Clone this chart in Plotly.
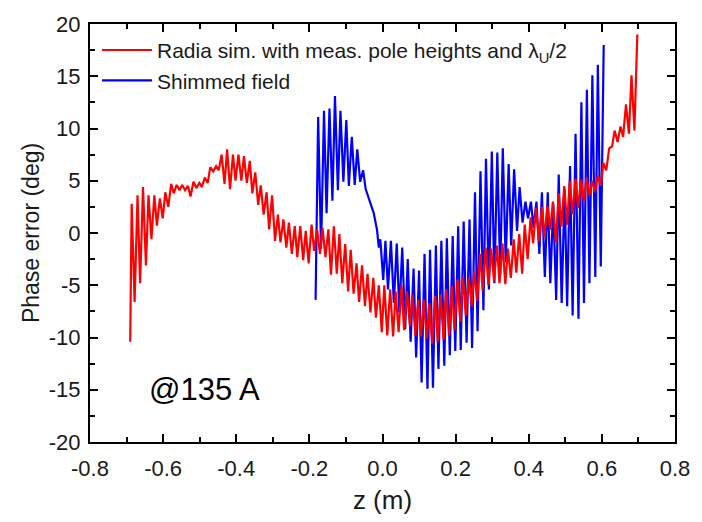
import plotly.graph_objects as go

# ---------------- data ----------------
# Red: Radia simulation – first point, then alternating peak / trough values per pole period
red_start_z = [-0.690]
red_start_v = [-10.4]
red_peak_z = [-0.686, -0.670, -0.655, -0.640, -0.624, -0.609, -0.594, -0.578, -0.563, -0.548,
              -0.532, -0.517, -0.501, -0.486, -0.471, -0.455, -0.440, -0.425, -0.409, -0.394,
              -0.379, -0.363, -0.348, -0.333, -0.317, -0.302, -0.286, -0.271, -0.256, -0.240,
              -0.225, -0.210, -0.194, -0.179, -0.164, -0.148, -0.133, -0.118, -0.102, -0.087,
              -0.071, -0.056, -0.041, -0.025, -0.010, 0.005, 0.021, 0.036, 0.052, 0.067,
              0.082, 0.098, 0.113, 0.128, 0.144, 0.159, 0.174, 0.190, 0.205, 0.220,
              0.236, 0.251, 0.267, 0.282, 0.297, 0.313, 0.328, 0.343, 0.359, 0.374,
              0.389, 0.405, 0.420, 0.436, 0.451, 0.466, 0.482, 0.497, 0.512, 0.528,
              0.543, 0.558, 0.574, 0.589, 0.604, 0.620, 0.635, 0.651, 0.666, 0.681,
              0.697]
red_peak_v = [2.8, 3.6, 4.4, 3.6, 3.6, 3.3, 3.9, 4.7, 4.6, 4.6,
              4.5, 4.9, 4.8, 5.3, 6.3, 6.4, 7.5, 8.0, 7.5, 7.5,
              7.35, 6.9, 5.8, 4.55, 3.9, 3.6, 1.75, 1.3, 1.0, 0.65,
              0.65, 0.2, 0.8, 0.35, 0.5, 0.35, 0.65, -0.1, -1.05, -1.6,
              -2.9, -3.1, -3.9, -4.3, -5.0, -5.0, -5.4, -5.6, -5.0, -5.6,
              -5.9, -6.4, -6.4, -6.7, -6.0, -5.9, -5.4, -5.1, -4.5, -4.2,
              -4.3, -3.6, -2.0, -1.4, -1.5, -1.2, -1.0, -1.5, -0.6, -0.1,
              0.8, 1.5, 2.4, 2.5, 2.6, 3.0, 3.8, 4.5, 5.0, 5.2,
              5.1, 5.3, 5.0, 5.5, 6.7, 8.1, 9.8, 10.2, 12.3, 15.1,
              19.0]
red_trough_z = [-0.678, -0.663, -0.647, -0.632, -0.617, -0.601, -0.586, -0.571, -0.555, -0.540,
                -0.525, -0.509, -0.494, -0.478, -0.463, -0.448, -0.432, -0.417, -0.402, -0.386,
                -0.371, -0.356, -0.340, -0.325, -0.310, -0.294, -0.279, -0.263, -0.248, -0.233,
                -0.217, -0.202, -0.187, -0.171, -0.156, -0.141, -0.125, -0.110, -0.094, -0.079,
                -0.064, -0.048, -0.033, -0.018, -0.002, 0.013, 0.029, 0.044, 0.059, 0.075,
                0.090, 0.105, 0.121, 0.136, 0.151, 0.167, 0.182, 0.197, 0.213, 0.228,
                0.244, 0.259, 0.274, 0.290, 0.305, 0.320, 0.336, 0.351, 0.366, 0.382,
                0.397, 0.412, 0.428, 0.443, 0.459, 0.474, 0.489, 0.505, 0.520, 0.535,
                0.551, 0.566, 0.581, 0.597, 0.612, 0.628, 0.643, 0.658, 0.674, 0.689]
red_trough_v = [-6.6, -4.8, -3.1, -0.6, 0.7, 1.4, 2.5, 3.8, 4.1, 4.1,
                3.5, 4.3, 4.4, 4.8, 5.9, 6.0, 4.7, 4.2, 5.0, 5.0,
                4.8, 3.8, 2.7, 1.75, 0.35, -0.75, -0.9, -1.4, -2.0, -2.3,
                -2.6, -2.9, -1.7, -2.0, -2.3, -4.0, -3.9, -4.8, -5.6, -5.8,
                -6.6, -7.0, -7.6, -8.1, -9.5, -9.8, -9.9, -9.5, -9.3, -8.9,
                -9.8, -9.9, -10.1, -10.6, -10.4, -10.2, -9.8, -9.3, -8.5, -7.9,
                -7.0, -6.5, -5.5, -5.0, -4.6, -4.8, -4.9, -4.3, -3.8, -3.9,
                -2.5, -1.0, -0.8, -0.4, 0.3, -0.9, 0.6, 0.8, 1.8, 2.4,
                3.0, 3.6, 3.9, 4.5, 6.0, 8.3, 8.7, 9.2, 9.5, 9.8]

# Blue: shimmed field (sample points in order)
blue_z = [-0.183,
          -0.176, -0.168, -0.160, -0.153, -0.145, -0.137, -0.130, -0.122, -0.115, -0.107,
          -0.099, -0.092, -0.084, -0.076, -0.069, -0.061,
          -0.053, -0.046, -0.037, -0.028, -0.024, -0.015, -0.010, -0.006, 0.002,
          0.008, 0.015, 0.023, 0.031, 0.039, 0.046, 0.054, 0.062, 0.069, 0.077,
          0.085, 0.092, 0.100, 0.107, 0.115, 0.123, 0.130, 0.138, 0.146, 0.153,
          0.161, 0.169, 0.176, 0.184, 0.192, 0.199, 0.207, 0.214, 0.222, 0.230,
          0.238, 0.245, 0.253, 0.260, 0.268, 0.276, 0.283, 0.291, 0.299, 0.306,
          0.314, 0.322, 0.329, 0.337, 0.345, 0.352, 0.360, 0.368, 0.375, 0.383,
          0.391, 0.398, 0.406, 0.413, 0.421, 0.429, 0.436, 0.444, 0.452, 0.459,
          0.467, 0.475, 0.482, 0.490, 0.498, 0.505, 0.513, 0.520, 0.528, 0.536,
          0.544, 0.551, 0.559, 0.566, 0.574, 0.582, 0.589, 0.597, 0.605]
blue_v = [-6.4,
          11.1, -1.5, 11.7, 1.9, 11.9, 3.1, 13.1, 4.1, 11.7, 4.9,
          10.8, 4.5, 9.2, 4.6, 8.0, 4.9,
          6.0, 4.2, 3.3, 2.2, 1.9, 0.3, -1.4, -0.6, -4.5,
          -0.75, -5.4, -0.75, -6.7, -1.0, -7.6, -1.4, -9.2, -2.5, -10.4,
          -3.4, -11.9, -3.6, -14.3, -2.0, -14.9, -1.6, -14.8, -1.2, -13.0,
          -0.75, -12.7, -0.5, -11.7, -0.3, -11.3, 0.65, -11.2, 1.1, -10.5,
          1.3, -11.0, 3.9, -9.4, 5.9, -7.4, 7.1, -5.4, 7.8, -4.8,
          7.7, -4.0, 8.1, -2.8, 6.6, -1.2, 6.1, 0.2, 4.4, 1.0,
          3.0, 1.4, 3.0, 0.5, 3.0, -2.0, 3.9, -4.2, 3.9, -4.8,
          2.8, -6.4, 5.6, -6.7, 4.2, -7.0, 6.4, -7.9, 9.5, -8.2,
          12.5, -6.7, 13.7, -4.8, 15.1, -4.2, 16.1, -3.2, 18.0]

x_tick_vals = [-0.8, -0.6, -0.4, -0.2, 0.0, 0.2, 0.4, 0.6, 0.8]
x_tick_text = ["-0.8", "-0.6", "-0.4", "-0.2", "0.0", "0.2", "0.4", "0.6", "0.8"]
y_tick_vals = [-20, -15, -10, -5, 0, 5, 10, 15, 20]
y_tick_text = ["-20", "-15", "-10", "-5", "0", "5", "10", "15", "20"]

red_name = "Radia sim. with meas. pole heights and λ<sub>U</sub>/2"
blue_name = "Shimmed field"
note_text = "@135 A"

# ---------------- build the red series in drawing order ----------------
red_z = list(red_start_z)
red_v = list(red_start_v)
for i in range(len(red_peak_z)):
    red_z.append(red_peak_z[i]); red_v.append(red_peak_v[i])
    if i < len(red_trough_z):
        red_z.append(red_trough_z[i]); red_v.append(red_trough_v[i])

FONT = "Liberation Sans, Arial, Helvetica, sans-serif"

fig = go.Figure()
fig.add_trace(go.Scatter(x=blue_z, y=blue_v, mode="lines", name=blue_name,
                         line=dict(color="#0000FF", width=2.2)))
fig.add_trace(go.Scatter(x=red_z, y=red_v, mode="lines", name=red_name,
                         line=dict(color="#FF0000", width=2.2)))

axis_common = dict(
    showline=True, linewidth=2, linecolor="black", mirror="allticks",
    ticks="inside", ticklen=8, tickwidth=2, tickcolor="black",
    showgrid=False, zeroline=False,
    tickfont=dict(family=FONT, size=22, color="#1a1a1a"),
)

fig.update_layout(
    width=702, height=522,
    margin=dict(l=90, r=27, t=18, b=76),
    paper_bgcolor="white", plot_bgcolor="white",
    font=dict(family=FONT, color="#1a1a1a"),
    xaxis=dict(range=[-0.8, 0.8], tickvals=x_tick_vals, ticktext=x_tick_text,
               minor=dict(ticks="inside", ticklen=5, tickwidth=2, tickcolor="black",
                          tick0=-0.8, dtick=0.1),
               ticklabelstandoff=6,
               title=dict(text="z (m)", font=dict(family=FONT, size=26), standoff=10),
               **axis_common),
    yaxis=dict(range=[-20, 20], tickvals=y_tick_vals, ticktext=y_tick_text,
               minor=dict(ticks="inside", ticklen=5, tickwidth=2, tickcolor="black",
                          tick0=-20, dtick=2.5),
               ticklabelstandoff=3,
               title=dict(text="Phase error (deg)", font=dict(family=FONT, size=23), standoff=3),
               **axis_common),
    legend=dict(x=0.012, y=0.986, xanchor="left", yanchor="top",
                traceorder="reversed", bgcolor="rgba(0,0,0,0)", itemwidth=50,
                font=dict(family=FONT, size=21, color="#1a1a1a")),
    annotations=[dict(x=-0.645, y=-15, xref="x", yref="y", text=note_text,
                      showarrow=False, xanchor="left", yanchor="middle",
                      font=dict(family=FONT, size=31, color="black"))],
)

fig.write_html("out.html")
